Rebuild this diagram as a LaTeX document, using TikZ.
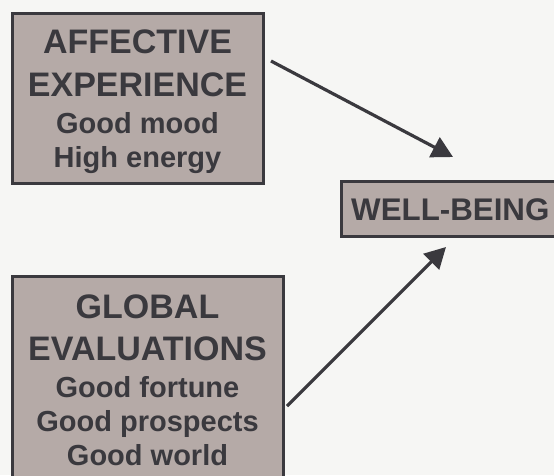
\documentclass[tikz,border=0pt]{standalone}
\usepackage{fontspec}
\setmainfont{Liberation Sans}
\usetikzlibrary{arrows.meta}
\definecolor{bgc}{RGB}{246,246,244}
\definecolor{boxfill}{RGB}{181,170,167}
\definecolor{ink}{RGB}{58,57,62}
\begin{document}
\begin{tikzpicture}[x=1pt,y=-1pt,
  boxst/.style={draw=ink,fill=boxfill,line width=3pt,inner sep=0pt},
  big/.style={text=ink,font=\fontsize{34}{40}\selectfont\bfseries,anchor=base,inner sep=0pt},
  small/.style={text=ink,font=\fontsize{29}{34}\selectfont\bfseries,anchor=base,inner sep=0pt},
  arr/.style={draw=ink,line width=3.2pt,-{Triangle[length=21pt,width=22pt]}}]
\fill[bgc] (0,0) rectangle (554,475);
\useasboundingbox (0,0) rectangle (554,475);
\begin{scope}
\clip (0,0) rectangle (554,475);
\node[boxst,minimum width=251pt,minimum height=170pt] (affect) at (137.5,98) {};
\node[boxst,minimum width=271pt,minimum height=210pt] (global) at (147.5,381) {};
\node[boxst,minimum width=230pt,minimum height=55pt] (wb) at (456,208.5) {};
\end{scope}
\node[big] (a1) at (137.5,53) {AFFECTIVE};
\node[big] (a2) at (137.5,96.5) {EXPERIENCE};
\node[small] (a3) at (137.5,133) {Good mood};
\node[small] (a4) at (137.5,167) {High energy};
\node[big] (g1) at (147.5,318) {GLOBAL};
\node[big] (g2) at (147.5,360) {EVALUATIONS};
\node[small] (g3) at (147.5,397) {Good fortune};
\node[small] (g4) at (147.5,431) {Good prospects};
\node[small] (g5) at (147.5,465) {Good world};
\node[text=ink,font=\fontsize{31.3}{38}\selectfont\bfseries,anchor=base west,inner sep=0pt] (wbt) at (351,220) {WELL-BEING};
\coordinate (s1) at (271,61);
\coordinate (e1) at (453,157);
\coordinate (s2) at (287,406);
\coordinate (e2) at (446,247);
\draw[arr] (s1) -- (e1);
\draw[arr] (s2) -- (e2);
\end{tikzpicture}
\end{document}
